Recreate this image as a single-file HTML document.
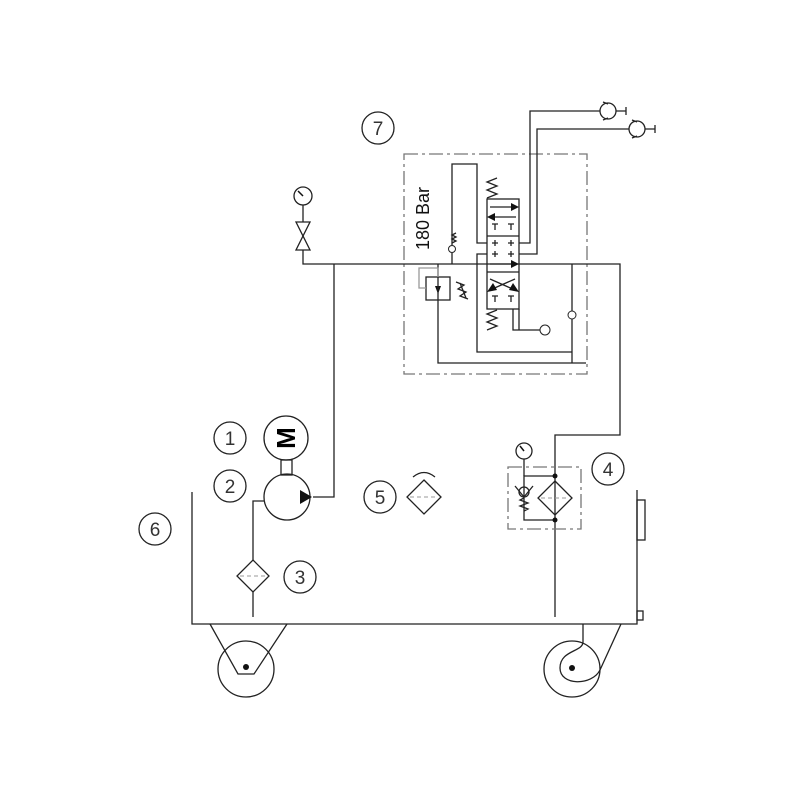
<!DOCTYPE html>
<html><head><style>body{margin:0;background:#fff}</style></head><body>
<svg width="800" height="800" viewBox="0 0 800 800" xmlns="http://www.w3.org/2000/svg" font-family="Liberation Sans, sans-serif">
<g fill="none" stroke="#222" stroke-width="1.3">
<circle cx="378" cy="128" r="16"/><circle cx="230" cy="438" r="16"/><circle cx="230" cy="486" r="16"/>
<circle cx="300" cy="577" r="16"/><circle cx="380" cy="497" r="16"/><circle cx="155" cy="529" r="16"/>
<circle cx="608" cy="469" r="16"/>
<rect x="404" y="154" width="183" height="220" stroke="#777" stroke-dasharray="14,4,3,4"/>
<polyline points="303,250 303,264 620,264 620,435 555,435 555,617"/>
<polyline points="334,264 334,497 313,497"/>
<circle cx="303" cy="196" r="9"/>
<line x1="303" y1="205" x2="303" y2="222"/>
<polygon points="296,222 310,222 303,236"/><polygon points="296,250 310,250 303,236"/>
<circle cx="286" cy="438" r="22"/>
<rect x="281" y="460" width="11" height="15"/>
<circle cx="287" cy="497" r="23"/>
<polyline points="264,501 253,501 253,560"/>
<polygon points="253,560 269,576 253,592 237,576"/>
<line x1="253" y1="592" x2="253" y2="617"/>
<polyline points="192,492 192,624 637,624 637,490"/>
<rect x="637" y="500" width="8" height="40"/><rect x="637" y="611" width="6" height="9"/>
<circle cx="246" cy="669" r="28"/>
<polyline points="210,624 238,674 254,674 287,624"/>
<circle cx="572" cy="669" r="28"/>
<path d="M583,624 V642 C583,652 560,650 560,668 C560,686 592,686 600,670 L621,624"/>
<polygon points="424,480 441,497 424,514 407,497"/>
<path d="M413,477 Q424,468 435,477"/>
<rect x="508" y="467" width="73" height="62" stroke="#777" stroke-dasharray="14,4,3,4"/>
<polygon points="555,481 572,498 555,515 538,498"/>
<polyline points="555,476 524,476 524,520 555,520"/>
<circle cx="524" cy="451" r="8"/>
<line x1="524" y1="459" x2="524" y2="476"/>
<circle cx="524" cy="492" r="5"/>
<path d="M515,486 L524,497 L533,486"/>
<path d="M524,498 l-4,2 8,3 -8,3 8,3 -4,2"/>
<rect x="487" y="199" width="32" height="110"/>
<line x1="487" y1="236" x2="519" y2="236"/><line x1="487" y1="272" x2="519" y2="272"/>
<path d="M497,178 l-10,4 10,4 -10,4 10,4 -10,4"/>
<path d="M497,310 l-10,4 10,4 -10,4 10,4 -10,4"/>
<line x1="490" y1="207" x2="512" y2="207"/><line x1="494" y1="217" x2="516" y2="217"/>
<line x1="490" y1="264" x2="512" y2="264"/>
<line x1="490" y1="290" x2="515" y2="279"/><line x1="515" y1="290" x2="490" y2="279"/>
<path d="M495,224v6M492,224h6M511,224v6M508,224h6M495,296v6M492,296h6M511,296v6M508,296h6"/>
<path d="M495,240v6M492,243h6M511,240v6M514,243h-6M495,251v6M492,254h6M511,251v6M514,254h-6"/>
<polyline points="452,245 452,164 477,164 477,243 487,243"/>
<line x1="452" y1="253" x2="452" y2="264"/>
<polyline points="487,254 477,254 477,352 572,352"/>
<line x1="572" y1="264" x2="572" y2="363"/>
<polyline points="438,264 438,363 586,363"/>
<rect x="426" y="277" width="24" height="23"/>
<polyline points="438,277 438,268 419,268 419,288 426,288" stroke="#999"/>
<path d="M456,282 l8,3 -6,4 8,3 -6,4 8,3 M460,283 l6,15"/>
<polyline points="513,309 513,330 540,330"/><line x1="519" y1="309" x2="519" y2="330"/>
<polyline points="519,243 530,243 530,111 600,111"/>
<polyline points="519,254 537,254 537,129 629,129"/>
<circle cx="608" cy="111" r="8"/><circle cx="637" cy="129" r="8"/>
<path d="M616,111h10M626,107v8M645,129h10M655,125v8"/>
<path d="M603,102l5,2M603,120l5,-2M632,120l5,2M632,138l5,-2"/>
<path d="M452,243 l4,-2 -4,-2 4,-2 -4,-2 4,-2"/>
</g>
<g fill="#111">
<circle cx="452" cy="249" r="3.5" fill="none" stroke="#222"/>
<circle cx="545" cy="330" r="5" fill="#fff" stroke="#222"/>
<circle cx="572" cy="315" r="4" fill="#fff" stroke="#222"/>
<polygon points="511,203 519,207 511,211"/><polygon points="495,213 487,217 495,221"/>
<polygon points="511,260 519,264 511,268"/>
<polygon points="487,292 493,283 497,290"/><polygon points="519,292 509,290 513,283"/>
<polygon points="435,286 441,286 438,294"/><line x1="438" y1="280" x2="438" y2="293" stroke="#222"/>
<polygon points="300,490 312,497 300,504"/>
<circle cx="246" cy="667" r="3"/><circle cx="572" cy="668" r="3"/>
<circle cx="555" cy="476" r="2.5"/><circle cx="555" cy="520" r="2.5"/>
<line x1="303" y1="196" x2="298" y2="191" stroke="#111" stroke-width="1.5"/>
<line x1="524" y1="451" x2="520" y2="446" stroke="#111" stroke-width="1.5"/>
</g>
<g stroke="#999" stroke-dasharray="4,3"><line x1="410" y1="497" x2="438" y2="497"/><line x1="541" y1="498" x2="569" y2="498"/><line x1="240" y1="576" x2="266" y2="576"/></g>
<g font-size="19" fill="#333" text-anchor="middle" font-weight="300">
<text x="378" y="135">7</text><text x="230" y="445">1</text><text x="230" y="493">2</text>
<text x="300" y="584">3</text><text x="380" y="504">5</text><text x="155" y="536">6</text><text x="608" y="476">4</text>
</g>
<text x="0" y="9" font-size="26" font-weight="bold" text-anchor="middle" transform="translate(286,438) rotate(-90)">M</text>
<text transform="translate(429,250) rotate(-90)" font-size="18" fill="#111">180 Bar</text>
</svg>
</body></html>
